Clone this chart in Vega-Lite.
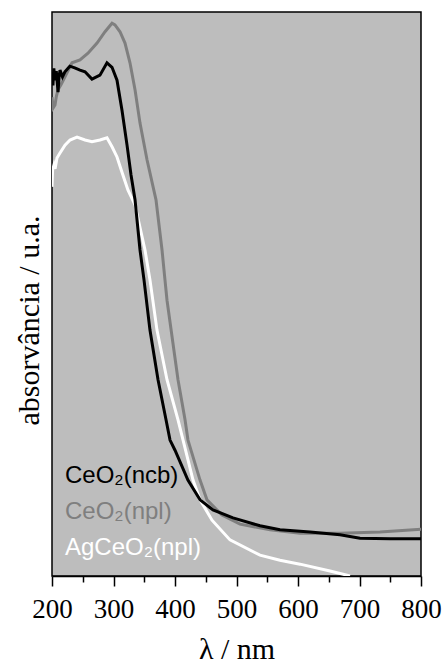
{
  "$schema": "https://vega.github.io/schema/vega-lite/v6.json",
  "width": 369,
  "height": 564,
  "autosize": "none",
  "padding": {"left": 52, "top": 12, "right": 22, "bottom": 88},
  "background": "white",
  "config": {
    "view": {"fill": "#bdbdbd", "stroke": "black", "strokeWidth": 1.5}
  },
  "datasets": {
    "spectra": [
      {"s": "CeO₂(npl)", "nm": 200, "a": 0.849},
      {"s": "CeO₂(npl)", "nm": 202, "a": 0.83},
      {"s": "CeO₂(npl)", "nm": 204.9, "a": 0.835},
      {"s": "CeO₂(npl)", "nm": 207, "a": 0.85},
      {"s": "CeO₂(npl)", "nm": 209.8, "a": 0.862},
      {"s": "CeO₂(npl)", "nm": 215, "a": 0.872},
      {"s": "CeO₂(npl)", "nm": 221.1, "a": 0.885},
      {"s": "CeO₂(npl)", "nm": 232.5, "a": 0.91},
      {"s": "CeO₂(npl)", "nm": 245.5, "a": 0.915},
      {"s": "CeO₂(npl)", "nm": 258.5, "a": 0.927},
      {"s": "CeO₂(npl)", "nm": 273.2, "a": 0.945},
      {"s": "CeO₂(npl)", "nm": 286.2, "a": 0.965},
      {"s": "CeO₂(npl)", "nm": 297.6, "a": 0.98},
      {"s": "CeO₂(npl)", "nm": 302.4, "a": 0.977},
      {"s": "CeO₂(npl)", "nm": 310.6, "a": 0.965},
      {"s": "CeO₂(npl)", "nm": 318.7, "a": 0.945},
      {"s": "CeO₂(npl)", "nm": 326.8, "a": 0.91},
      {"s": "CeO₂(npl)", "nm": 335, "a": 0.862},
      {"s": "CeO₂(npl)", "nm": 343.1, "a": 0.803},
      {"s": "CeO₂(npl)", "nm": 354.5, "a": 0.738},
      {"s": "CeO₂(npl)", "nm": 369.1, "a": 0.667},
      {"s": "CeO₂(npl)", "nm": 378.9, "a": 0.578},
      {"s": "CeO₂(npl)", "nm": 383.7, "a": 0.525},
      {"s": "CeO₂(npl)", "nm": 387, "a": 0.489},
      {"s": "CeO₂(npl)", "nm": 404.9, "a": 0.348},
      {"s": "CeO₂(npl)", "nm": 416.3, "a": 0.277},
      {"s": "CeO₂(npl)", "nm": 421.1, "a": 0.241},
      {"s": "CeO₂(npl)", "nm": 440.7, "a": 0.17},
      {"s": "CeO₂(npl)", "nm": 452, "a": 0.135},
      {"s": "CeO₂(npl)", "nm": 476.4, "a": 0.108},
      {"s": "CeO₂(npl)", "nm": 505.7, "a": 0.092},
      {"s": "CeO₂(npl)", "nm": 554.5, "a": 0.082},
      {"s": "CeO₂(npl)", "nm": 603.3, "a": 0.076},
      {"s": "CeO₂(npl)", "nm": 668.3, "a": 0.076},
      {"s": "CeO₂(npl)", "nm": 733.3, "a": 0.078},
      {"s": "CeO₂(npl)", "nm": 800, "a": 0.083},

      {"s": "AgCeO₂(npl)", "nm": 200, "a": 0.69},
      {"s": "AgCeO₂(npl)", "nm": 201, "a": 0.72},
      {"s": "AgCeO₂(npl)", "nm": 203.3, "a": 0.729},
      {"s": "AgCeO₂(npl)", "nm": 205, "a": 0.722},
      {"s": "AgCeO₂(npl)", "nm": 208.1, "a": 0.741},
      {"s": "AgCeO₂(npl)", "nm": 213, "a": 0.75},
      {"s": "AgCeO₂(npl)", "nm": 221.1, "a": 0.764},
      {"s": "AgCeO₂(npl)", "nm": 229.3, "a": 0.773},
      {"s": "AgCeO₂(npl)", "nm": 240.7, "a": 0.778},
      {"s": "AgCeO₂(npl)", "nm": 253.7, "a": 0.773},
      {"s": "AgCeO₂(npl)", "nm": 265, "a": 0.77},
      {"s": "AgCeO₂(npl)", "nm": 278, "a": 0.773},
      {"s": "AgCeO₂(npl)", "nm": 289.4, "a": 0.777},
      {"s": "AgCeO₂(npl)", "nm": 297.6, "a": 0.761},
      {"s": "AgCeO₂(npl)", "nm": 305.7, "a": 0.743},
      {"s": "AgCeO₂(npl)", "nm": 313.8, "a": 0.716},
      {"s": "AgCeO₂(npl)", "nm": 323.6, "a": 0.684},
      {"s": "AgCeO₂(npl)", "nm": 335, "a": 0.658},
      {"s": "AgCeO₂(npl)", "nm": 351.2, "a": 0.578},
      {"s": "AgCeO₂(npl)", "nm": 359.3, "a": 0.525},
      {"s": "AgCeO₂(npl)", "nm": 370.7, "a": 0.436},
      {"s": "AgCeO₂(npl)", "nm": 387, "a": 0.348},
      {"s": "AgCeO₂(npl)", "nm": 404.9, "a": 0.277},
      {"s": "AgCeO₂(npl)", "nm": 429.3, "a": 0.17},
      {"s": "AgCeO₂(npl)", "nm": 440.7, "a": 0.135},
      {"s": "AgCeO₂(npl)", "nm": 460.2, "a": 0.099},
      {"s": "AgCeO₂(npl)", "nm": 489.4, "a": 0.064},
      {"s": "AgCeO₂(npl)", "nm": 538.2, "a": 0.037},
      {"s": "AgCeO₂(npl)", "nm": 570.7, "a": 0.028},
      {"s": "AgCeO₂(npl)", "nm": 603.3, "a": 0.021},
      {"s": "AgCeO₂(npl)", "nm": 652, "a": 0.009},
      {"s": "AgCeO₂(npl)", "nm": 684.6, "a": 0.0},

      {"s": "CeO₂(ncb)", "nm": 200, "a": 0.894},
      {"s": "CeO₂(ncb)", "nm": 201.5, "a": 0.87},
      {"s": "CeO₂(ncb)", "nm": 203, "a": 0.9},
      {"s": "CeO₂(ncb)", "nm": 204.9, "a": 0.879},
      {"s": "CeO₂(ncb)", "nm": 207, "a": 0.895},
      {"s": "CeO₂(ncb)", "nm": 209.8, "a": 0.858},
      {"s": "CeO₂(ncb)", "nm": 211.5, "a": 0.885},
      {"s": "CeO₂(ncb)", "nm": 213, "a": 0.897},
      {"s": "CeO₂(ncb)", "nm": 217, "a": 0.885},
      {"s": "CeO₂(ncb)", "nm": 221, "a": 0.894},
      {"s": "CeO₂(ncb)", "nm": 229, "a": 0.904},
      {"s": "CeO₂(ncb)", "nm": 237, "a": 0.901},
      {"s": "CeO₂(ncb)", "nm": 245.5, "a": 0.897},
      {"s": "CeO₂(ncb)", "nm": 253.7, "a": 0.894},
      {"s": "CeO₂(ncb)", "nm": 265, "a": 0.881},
      {"s": "CeO₂(ncb)", "nm": 278, "a": 0.888},
      {"s": "CeO₂(ncb)", "nm": 289.4, "a": 0.91},
      {"s": "CeO₂(ncb)", "nm": 297.6, "a": 0.902},
      {"s": "CeO₂(ncb)", "nm": 305.7, "a": 0.879},
      {"s": "CeO₂(ncb)", "nm": 313.8, "a": 0.826},
      {"s": "CeO₂(ncb)", "nm": 322, "a": 0.764},
      {"s": "CeO₂(ncb)", "nm": 328.5, "a": 0.711},
      {"s": "CeO₂(ncb)", "nm": 335, "a": 0.667},
      {"s": "CeO₂(ncb)", "nm": 343.1, "a": 0.578},
      {"s": "CeO₂(ncb)", "nm": 349.6, "a": 0.525},
      {"s": "CeO₂(ncb)", "nm": 359.3, "a": 0.436},
      {"s": "CeO₂(ncb)", "nm": 372.4, "a": 0.348},
      {"s": "CeO₂(ncb)", "nm": 385.4, "a": 0.277},
      {"s": "CeO₂(ncb)", "nm": 391.9, "a": 0.241},
      {"s": "CeO₂(ncb)", "nm": 400, "a": 0.223},
      {"s": "CeO₂(ncb)", "nm": 421, "a": 0.17},
      {"s": "CeO₂(ncb)", "nm": 440.7, "a": 0.135},
      {"s": "CeO₂(ncb)", "nm": 461.8, "a": 0.117},
      {"s": "CeO₂(ncb)", "nm": 494.3, "a": 0.103},
      {"s": "CeO₂(ncb)", "nm": 538.2, "a": 0.089},
      {"s": "CeO₂(ncb)", "nm": 570.7, "a": 0.082},
      {"s": "CeO₂(ncb)", "nm": 619.5, "a": 0.078},
      {"s": "CeO₂(ncb)", "nm": 668.3, "a": 0.073},
      {"s": "CeO₂(ncb)", "nm": 700.8, "a": 0.067},
      {"s": "CeO₂(ncb)", "nm": 749.6, "a": 0.066},
      {"s": "CeO₂(ncb)", "nm": 800, "a": 0.066}
    ]
  },
  "data": {"name": "spectra"},
  "mark": {"type": "line", "strokeWidth": 3, "clip": true},
  "encoding": {
    "x": {
      "field": "nm",
      "type": "quantitative",
      "scale": {"domain": [200, 800], "nice": false},
      "axis": {
        "title": "λ / nm",
        "values": [200, 250, 300, 350, 400, 450, 500, 550, 600, 650, 700, 750, 800],
        "labelExpr": "datum.value % 100 === 0 ? datum.label : ''",
        "labelFont": "Liberation Serif",
        "labelFontSize": 27,
        "labelColor": "black",
        "labelBaseline": "alphabetic",
        "labelPadding": 31,
        "labelFlush": false,
        "labelOverlap": false,
        "domainColor": "black",
        "domainWidth": 1.5,
        "tickColor": "black",
        "tickWidth": 1.5,
        "tickSize": {"condition": {"test": "datum.value % 100 === 0", "value": 10}, "value": 6},
        "grid": false,
        "titleFont": "Liberation Serif",
        "titleFontSize": 30,
        "titleFontWeight": "normal",
        "titleColor": "black",
        "titleBaseline": "alphabetic",
        "titleY": 82
      }
    },
    "y": {
      "field": "a",
      "type": "quantitative",
      "scale": {"domain": [0, 1], "nice": false},
      "axis": {
        "title": "absorvância / u.a.",
        "ticks": false,
        "labels": false,
        "domain": false,
        "grid": false,
        "titleFont": "Liberation Serif",
        "titleFontSize": 30,
        "titleFontWeight": "normal",
        "titleColor": "black",
        "titleAngle": -90,
        "titleBaseline": "alphabetic",
        "titleAlign": "center",
        "titleX": -14,
        "titleY": 308
      }
    },
    "color": {
      "field": "s",
      "type": "nominal",
      "scale": {
        "domain": ["CeO₂(ncb)", "CeO₂(npl)", "AgCeO₂(npl)"],
        "range": ["black", "#7f7f7f", "white"]
      },
      "legend": {
        "title": null,
        "orient": "none",
        "legendX": -11,
        "legendY": 452,
        "symbolSize": 0,
        "symbolOpacity": 0,
        "symbolStrokeWidth": 0,
        "labelOffset": 0,
        "labelFont": "Liberation Sans",
        "labelFontSize": 24,
        "labelLimit": 300,
        "rowPadding": 12,
        "padding": 0,
        "encode": {
          "labels": {"update": {"fill": {"scale": "color", "field": "value"}}}
        }
      }
    }
  }
}
